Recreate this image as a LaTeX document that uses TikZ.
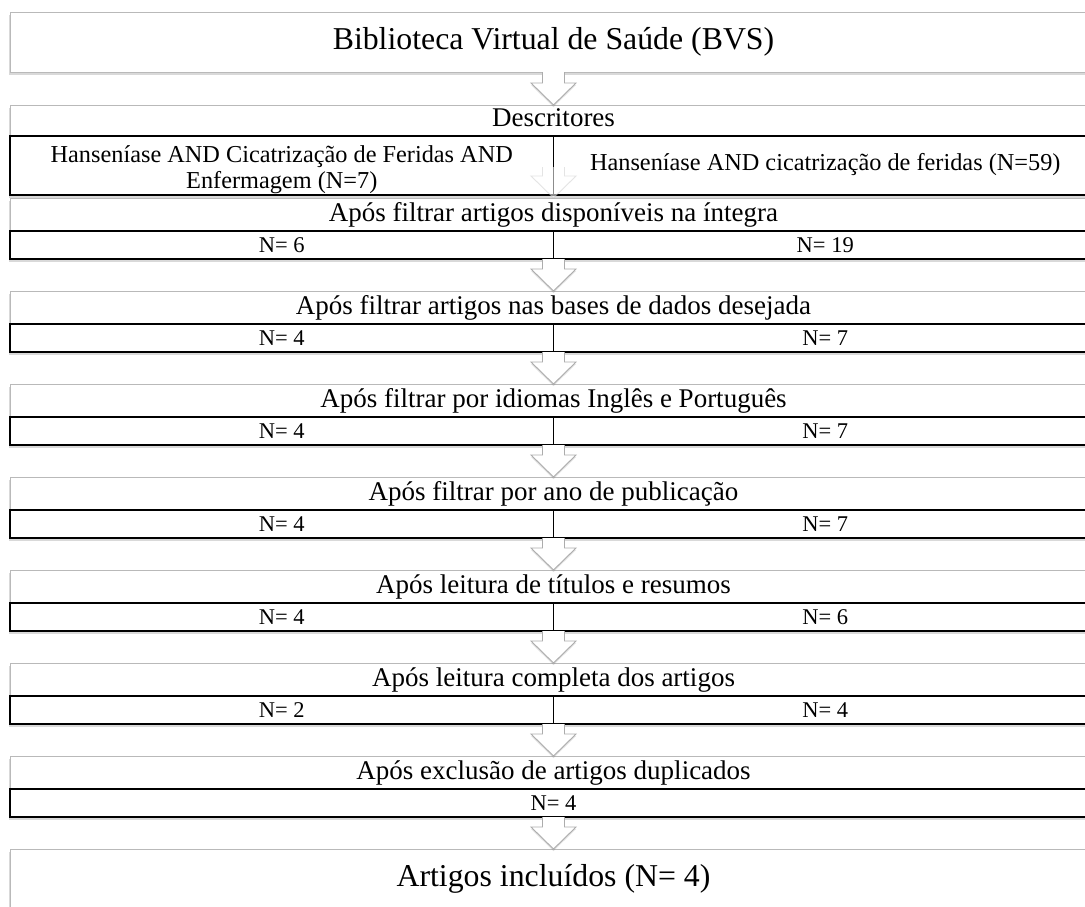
\documentclass[tikz,border=0pt]{standalone}
\usepackage{fontspec}
\setmainfont{Liberation Serif}
\usepackage{tikz}
\usetikzlibrary{positioning, calc, shadows}
\tikzset{panel/.style={rectangle,draw=gray!55,fill=white,line width=0.9pt,minimum width=1087pt,minimum height=61pt,inner sep=0pt,outer sep=0pt,drop shadow={shadow xshift=-1pt,shadow yshift=-3pt,opacity=0.3}},
         titlepanel/.style={panel,minimum height=60pt,font=\fontsize{31.8}{36}\selectfont},
         head/.style={inner sep=0pt,text height=0.7em,text depth=0.2em,font=\fontsize{27}{31}\selectfont},
         cell/.style={rectangle,draw=black,fill=white,line width=1.3pt,minimum height=28pt,inner sep=0pt,outer sep=0pt,font=\fontsize{22.5}{25}\selectfont},
         halfcell/.style={cell,minimum width=543.5pt},
         fullcell/.style={cell,minimum width=1087pt},
         desccell/.style={cell,minimum width=543.5pt,minimum height=59pt,align=center,font=\fontsize{24.3}{26.5}\selectfont},
         barrow/.style={draw=gray!65,fill=white,line width=0.9pt,line join=miter,drop shadow={shadow xshift=0pt,shadow yshift=-2pt,opacity=0.25}},
         fadearrow/.style={draw=gray!60,draw opacity=0.35,fill=white,fill opacity=0.55,line width=0.9pt}}
% block arrow: stem top at #2, tip at #3
\newcommand{\blockarrow}[3][barrow]{%
  \draw[#1] ($(#2)+(-11pt,0pt)$) -- ($(#3)+(-11pt,22pt)$) -- ($(#3)+(-22.5pt,22pt)$) -- (#3)
    -- ($(#3)+(22.5pt,22pt)$) -- ($(#3)+(11pt,22pt)$) -- ($(#2)+(11pt,0pt)$);}
\begin{document}
\begin{tikzpicture}[node distance=32pt]
    \useasboundingbox (0,0) rectangle (1085pt,-906pt);
    \clip (0,0) rectangle (1085pt,-906pt);
    \node (p0) [titlepanel] at (553.5pt,-42pt) {Biblioteca Virtual de Saúde (BVS)};
    % descritores
    \node (p1) [panel, minimum height=90pt, below=33pt of p0] {};
    \node (h1) [head] at ($(p1.north)+(0pt,-19pt)$) {Descritores};
    \node (c1l) [desccell, anchor=south west] at (p1.south west) {\rule{0pt}{1.05em}Hanseníase AND Cicatrização de Feridas AND\\Enfermagem (N=7)};
    \node (c1r) [desccell, anchor=south east, text height=1.2em, text depth=0.2em] at (p1.south east) {Hanseníase AND cicatrização de feridas (N=59)};
    % filtros
    \node (p2) [panel, below=3pt of p1] {};
    \node (h2) [head] at ($(p2.north)+(0pt,-21pt)$) {Após filtrar artigos disponíveis na íntegra};
    \node (c2l) [halfcell, anchor=south west] at (p2.south west) {N= 6};
    \node (c2r) [halfcell, anchor=south east] at (p2.south east) {N= 19};
    \node (p3) [panel, below=of p2] {};
    \node (h3) [head] at ($(p3.north)+(0pt,-21pt)$) {Após filtrar artigos nas bases de dados desejada};
    \node (c3l) [halfcell, anchor=south west] at (p3.south west) {N= 4};
    \node (c3r) [halfcell, anchor=south east] at (p3.south east) {N= 7};
    \node (p4) [panel, below=of p3] {};
    \node (h4) [head] at ($(p4.north)+(0pt,-21pt)$) {Após filtrar por idiomas Inglês e Português};
    \node (c4l) [halfcell, anchor=south west] at (p4.south west) {N= 4};
    \node (c4r) [halfcell, anchor=south east] at (p4.south east) {N= 7};
    \node (p5) [panel, below=of p4] {};
    \node (h5) [head] at ($(p5.north)+(0pt,-21pt)$) {Após filtrar por ano de publicação};
    \node (c5l) [halfcell, anchor=south west] at (p5.south west) {N= 4};
    \node (c5r) [halfcell, anchor=south east] at (p5.south east) {N= 7};
    \node (p6) [panel, below=of p5] {};
    \node (h6) [head] at ($(p6.north)+(0pt,-21pt)$) {Após leitura de títulos e resumos};
    \node (c6l) [halfcell, anchor=south west] at (p6.south west) {N= 4};
    \node (c6r) [halfcell, anchor=south east] at (p6.south east) {N= 6};
    \node (p7) [panel, below=of p6] {};
    \node (h7) [head] at ($(p7.north)+(0pt,-21pt)$) {Após leitura completa dos artigos};
    \node (c7l) [halfcell, anchor=south west] at (p7.south west) {N= 2};
    \node (c7r) [halfcell, anchor=south east] at (p7.south east) {N= 4};
    \node (p8) [panel, below=of p7] {};
    \node (h8) [head] at ($(p8.north)+(0pt,-21pt)$) {Após exclusão de artigos duplicados};
    \node (c8) [fullcell, anchor=south] at (p8.south) {N= 4};
    \node (p9) [titlepanel, below=of p8] {Artigos incluídos (N= 4)};
    % setas
    \coordinate (f1) at ($(p2.north)+(0pt,31pt)$);
    \blockarrow[fadearrow]{f1}{p2.north}
    \foreach \i/\j in {p0/p1,p2/p3,p3/p4,p4/p5,p5/p6,p6/p7,p7/p8,p8/p9} {\blockarrow{\i.south}{\j.north}}
  \end{tikzpicture}
\end{document}
